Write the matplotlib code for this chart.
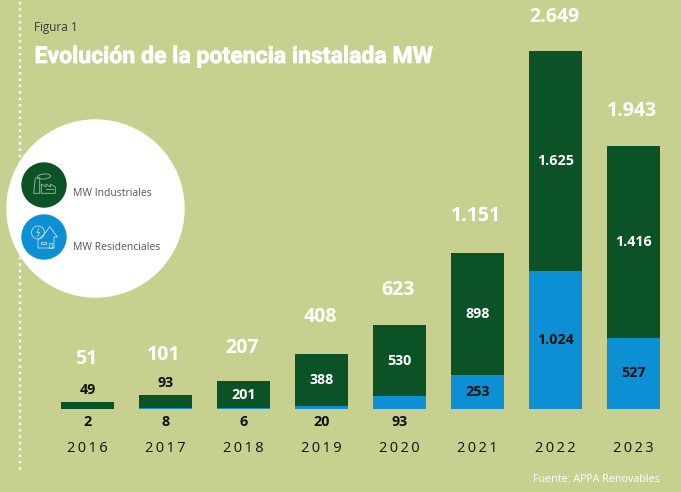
"""Evolución de la potencia instalada MW: stacked bars with round legend"""

import matplotlib
matplotlib.use("Agg")
import matplotlib.pyplot as plt
import matplotlib.patheffects as pe
from matplotlib.patches import Circle, Polygon, Rectangle, Ellipse

years = ["2016", "2017", "2018", "2019", "2020", "2021", "2022", "2023"]
residential = [2, 8, 6, 20, 93, 253, 1024, 527]
industrial = [49, 93, 201, 388, 530, 898, 1625, 1416]
totals = [51, 101, 207, 408, 623, 1151, 2649, 1943]
total_labels = ["51", "101", "207", "408", "623", "1.151", "2.649", "1.943"]
residential_labels = ["2", "8", "6", "20", "93", "253", "1.024", "527"]
industrial_labels = ["49", "93", "201", "388", "530", "898", "1.625", "1.416"]

# label offsets in px, the original placed these by hand
total_offsets = [44, 42, 34, 38, 36, 39, 35, 37]

BG = "#C8D08F"
GREEN = "#0B5227"
BLUE = "#0D90D3"
W, H = 681, 492
FONT = "Open Sans"

fig = plt.figure(figsize=(W / 100, H / 100), dpi=100, facecolor=BG)

# overlay in pixel coordinates for the decoration
deco = fig.add_axes([0, 0, 1, 1])
deco.set_xlim(0, W)
deco.set_ylim(H, 0)
deco.axis("off")

deco.plot([20, 20], [2, 473], color="white", lw=1.7, linestyle=(0, (1, 1.7)), zorder=1)
deco.add_patch(Circle((95.5, 208.5), 88.5, color="white", zorder=2))
deco.add_patch(Circle((44, 185), 22, color=GREEN, zorder=3))
deco.add_patch(Circle((44, 237), 22, color=BLUE, zorder=3))

# factory icon
line = dict(fill=False, ec="#9DBFA5", lw=0.6, zorder=4)
deco.add_patch(Polygon([(35.3, 178), (39.7, 178), (39.7, 193.3), (33.7, 193.3)], closed=True, **line))
deco.add_patch(Polygon([(41.3, 193.3), (41.3, 184), (46, 187), (46, 184), (50.5, 187), (50.5, 184),
                        (55.3, 187), (55.3, 193.3)], closed=True, **line))
deco.add_patch(Ellipse((44, 176.5), 13, 5, angle=-5, **line))
deco.plot([46, 53], [188.5, 188.5], color="#9DBFA5", lw=0.6, zorder=4)

# house icon
line = dict(fill=False, ec="#BFE0F2", lw=0.6, zorder=4)
deco.add_patch(Circle((38, 232.5), 6.5, **line))
deco.add_patch(Polygon([(38, 248), (38, 240), (46, 232), (49.7, 226.7), (57.3, 237), (54, 237), (54, 248)],
                       closed=True, **line))
deco.add_patch(Rectangle((41, 241.7), 5, 1.8, **line))
deco.add_patch(Rectangle((48.7, 242.7), 3.6, 5.3, **line))
deco.plot([39, 37, 39.5, 37.5], [228.5, 232.5, 232.5, 236.5], color="#BFE0F2", lw=0.6, zorder=4)

deco.text(73, 193.5, "MW Industriales", fontsize=7.5, color="#555555", family=FONT, va="center", zorder=4)
deco.text(73, 247.5, "MW Residenciales", fontsize=7.5, color="#555555", family=FONT, va="center", zorder=4)

deco.text(34, 27, "Figura 1", fontsize=8.5, color="#3A3A3A", family=FONT, va="center")
deco.text(34.5, 56.5, "Evolución de la potencia instalada MW", fontsize=16.6, color="white",
          family="Roboto", weight="bold", va="center",
          path_effects=[pe.withStroke(linewidth=0.5, foreground="white")])
deco.text(659.5, 479, "Fuente: APPA Renovables", fontsize=7.75, color="white", family=FONT,
          va="center", ha="right")

# bars, 78 px per slot and baseline at y = 409 px
ax = fig.add_axes([48.5 / W, (H - 409) / H, 624 / W, 409 / H])
ax.patch.set_alpha(0)
ax.set_xlim(-0.5, 7.5)
ax.set_ylim(0, 409 / 0.1352)
ax.axis("off")

xs = list(range(len(years)))
ax.bar(xs, residential, width=0.68, color=BLUE, zorder=3)
ax.bar(xs, industrial, width=0.68, bottom=residential, color=GREEN, zorder=3)

for i, x in enumerate(xs):
    # total above the bar
    ax.annotate(total_labels[i], (x, totals[i]), xytext=(-1, total_offsets[i] * 0.72 - 1),
                textcoords="offset points", ha="center", va="center", color="white",
                fontsize=14, weight="bold", family=FONT, zorder=5)

    # industrial label sits above the small bars, inside the others
    mid = residential[i] + industrial[i] / 2
    if i < 2:
        ax.annotate(industrial_labels[i], (x, totals[i]), xytext=(0, 9),
                    textcoords="offset points", ha="center", va="center", color="#111111",
                    fontsize=10.3, weight="bold", family=FONT, zorder=5)
    else:
        ax.text(x, mid, industrial_labels[i], ha="center", va="center", color="white",
                fontsize=10.3, weight="bold", family=FONT, zorder=5)

    # residential label sits below the small bars
    if i < 5:
        ax.annotate(residential_labels[i], (x, 0), xytext=(0, -9.5),
                    textcoords="offset points", ha="center", va="center", color="#111111",
                    fontsize=10.3, weight="bold", family=FONT, zorder=5, annotation_clip=False)
    else:
        ax.text(x, residential[i] / 2, residential_labels[i], ha="center", va="center",
                color="#111111", fontsize=10.3, weight="bold", family=FONT, zorder=5)

    ax.annotate("\u2009".join(years[i]), (x, 0), xytext=(0, -28.5), textcoords="offset points",
                ha="center", va="center", color="#111111", fontsize=10.5, family=["Open Sans", "DejaVu Sans"],
                annotation_clip=False)

fig.savefig("out.png", dpi=100, facecolor=BG)
